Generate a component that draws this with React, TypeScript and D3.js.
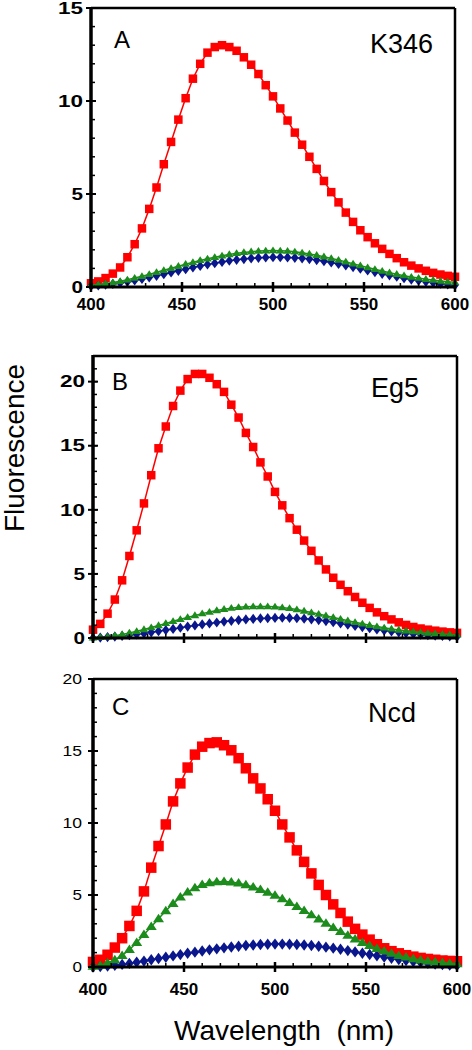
import React from "react";
import * as d3 from "d3";

// Wavelength grid (nm)
const wavelengths: number[] = d3.range(400, 601, 4);

// Panel A - K346
const redA = [0.2,0.3,0.48,0.72,1.05,1.6,2.3,3.15,4.2,5.35,6.6,7.8,9.0,10.15,11.2,12.0,12.6,12.9,13.0,12.9,12.7,12.35,11.95,11.45,10.85,10.25,9.6,8.95,8.3,7.65,7.0,6.35,5.7,5.1,4.55,4.0,3.5,3.05,2.68,2.35,2.05,1.78,1.55,1.33,1.15,1.0,0.87,0.76,0.67,0.6,0.55];
const greenA = [0.1,0.14,0.18,0.24,0.31,0.39,0.48,0.58,0.68,0.79,0.9,1.01,1.12,1.23,1.33,1.43,1.52,1.6,1.68,1.75,1.81,1.86,1.9,1.93,1.95,1.96,1.95,1.93,1.89,1.84,1.78,1.71,1.63,1.54,1.45,1.35,1.25,1.15,1.05,0.95,0.86,0.77,0.69,0.61,0.54,0.48,0.42,0.37,0.32,0.28,0.25];
const blueA = [0.05,0.08,0.12,0.17,0.22,0.28,0.35,0.43,0.51,0.6,0.69,0.78,0.87,0.96,1.05,1.13,1.21,1.28,1.35,1.41,1.46,1.5,1.54,1.57,1.59,1.6,1.6,1.59,1.57,1.54,1.5,1.45,1.39,1.32,1.24,1.16,1.07,0.98,0.89,0.8,0.71,0.63,0.55,0.47,0.4,0.34,0.28,0.23,0.18,0.14,0.1];

// Panel B - Eg5
const redB = [0.65,1.1,1.9,3.0,4.5,6.4,8.4,10.5,12.7,14.8,16.5,18.1,19.3,20.2,20.6,20.6,20.3,19.8,19.2,18.2,17.2,16.0,14.9,13.7,12.6,11.4,10.35,9.35,8.45,7.6,6.8,6.05,5.35,4.7,4.15,3.65,3.2,2.75,2.35,2.0,1.7,1.45,1.22,1.02,0.86,0.74,0.65,0.57,0.5,0.44,0.4];
const greenB = [0.02,0.05,0.1,0.18,0.28,0.4,0.53,0.67,0.82,0.98,1.14,1.3,1.46,1.61,1.76,1.9,2.03,2.15,2.25,2.33,2.39,2.43,2.45,2.46,2.45,2.43,2.38,2.31,2.22,2.11,1.99,1.87,1.74,1.61,1.48,1.35,1.23,1.11,1.0,0.9,0.8,0.71,0.63,0.56,0.5,0.44,0.39,0.35,0.31,0.28,0.25];
const blueB = [0.0,0.03,0.07,0.11,0.16,0.22,0.29,0.36,0.44,0.53,0.62,0.71,0.8,0.89,0.98,1.06,1.14,1.21,1.28,1.34,1.4,1.45,1.49,1.53,1.55,1.57,1.58,1.57,1.55,1.51,1.46,1.4,1.32,1.23,1.14,1.04,0.94,0.85,0.76,0.67,0.59,0.51,0.44,0.38,0.32,0.27,0.23,0.19,0.16,0.13,0.1];

// Panel C - Ncd
const redC = [0.35,0.5,0.85,1.35,2.0,2.85,3.9,5.25,6.9,8.4,9.9,11.5,12.75,13.85,14.75,15.3,15.55,15.6,15.4,15.05,14.5,13.8,13.1,12.4,11.65,10.85,9.9,9.0,8.1,7.3,6.5,5.7,5.0,4.35,3.75,3.15,2.65,2.25,1.9,1.58,1.3,1.1,0.95,0.82,0.72,0.63,0.56,0.5,0.45,0.42,0.4];
const greenC = [0.05,0.12,0.28,0.5,0.8,1.2,1.7,2.25,2.8,3.35,3.9,4.4,4.85,5.2,5.5,5.72,5.85,5.92,5.93,5.9,5.82,5.7,5.55,5.38,5.18,4.97,4.73,4.47,4.2,3.92,3.63,3.33,3.03,2.74,2.46,2.19,1.94,1.7,1.48,1.28,1.1,0.94,0.8,0.68,0.57,0.48,0.41,0.35,0.3,0.26,0.22];
const blueC = [0.0,0.03,0.07,0.12,0.18,0.25,0.33,0.41,0.5,0.59,0.68,0.77,0.86,0.95,1.03,1.11,1.19,1.26,1.33,1.39,1.44,1.49,1.53,1.56,1.58,1.59,1.59,1.58,1.56,1.53,1.49,1.44,1.38,1.31,1.23,1.14,1.05,0.96,0.87,0.78,0.69,0.6,0.52,0.45,0.38,0.32,0.26,0.21,0.17,0.13,0.1];

const xTicks = [400, 450, 500, 550, 600];
const yTicksA = [0, 5, 10, 15];
const yTicksBC = [0, 5, 10, 15, 20];

const RED = "#ff0000";
const GREEN = "#1c8c1c";
const BLUE = "#0a168c";
const FONT = "Arial, 'Liberation Sans', Helvetica, sans-serif";

type PanelProps = {
  left: number; right: number; top: number; bottom: number;
  yMax: number; yTicks: number[];
  red: number[]; green: number[]; blue: number[];
  letter: string; name: string;
  showX: boolean; xLabelOffset: number;
  boldY: boolean; big: boolean;
  letterPos: [number, number]; namePos: [number, number];
  nameSize: number;
};

function Marker({ kind, x, y, s, color }: { kind: string; x: number; y: number; s: number; color: string }) {
  if (kind === "square") {
    return <rect x={x - s / 2} y={y - s / 2} width={s} height={s} fill={color} />;
  }
  if (kind === "diamond") {
    const w = s * 0.45, h = s * 0.6;
    return <path d={`M${x},${y - h}L${x + w},${y}L${x},${y + h}L${x - w},${y}Z`} fill={color} />;
  }
  const h = s * 0.85, w = s * 0.55;
  return <path d={`M${x},${y - h * 0.6}L${x + w},${y + h * 0.4}L${x - w},${y + h * 0.4}Z`} fill={color} />;
}

function Panel(p: PanelProps) {
  const x = d3.scaleLinear().domain([400, 600]).range([p.left, p.right]);
  const y = d3.scaleLinear().domain([0, p.yMax]).range([p.bottom, p.top]);
  const line = d3.line<number>().x((_, i) => x(wavelengths[i])).y((v) => y(v));
  const minorY = d3.range(0, p.yMax + 0.001, 1);
  const minorX = d3.range(400, 601, 10);
  const sq = p.big ? 10.5 : 8.5;
  const tri = p.big ? 10 : 8;
  const dia = p.big ? 9.5 : 8.5;
  const series = [
    { data: p.red, color: RED, kind: "square", s: sq },
    { data: p.blue, color: BLUE, kind: "diamond", s: dia },
    { data: p.green, color: GREEN, kind: "triangle", s: tri },
  ];
  return (
    <g>
      {series.map((s, si) => (
        <g key={si}>
          <path d={line(s.data) || ""} fill="none" stroke={s.color} strokeWidth={1.5} />
          {s.data.map((v, i) => (
            <Marker key={i} kind={s.kind} x={x(wavelengths[i])} y={y(v)} s={s.s} color={s.color} />
          ))}
        </g>
      ))}
      {/* frame */}
      <line x1={p.left} x2={p.right} y1={p.top} y2={p.top} stroke="#000" strokeWidth={2.5} />
      <line x1={p.right} x2={p.right} y1={p.top} y2={p.bottom} stroke="#000" strokeWidth={2.5} />
      <line x1={p.left} x2={p.left} y1={p.top - 1} y2={p.bottom + 1.5} stroke="#000" strokeWidth={3.5} />
      <line x1={p.left} x2={p.right + 1.2} y1={p.bottom} y2={p.bottom} stroke="#000" strokeWidth={3} />
      {/* y minor ticks */}
      {minorY.map((t) => (
        <line key={"ym" + t} x1={p.left} x2={p.left + 4} y1={y(t)} y2={y(t)} stroke="#000" strokeWidth={1.5} />
      ))}
      {p.yTicks.map((t) => (
        <g key={"y" + t}>
          <line x1={p.left - 5} x2={p.left + 5} y1={y(t)} y2={y(t)} stroke="#000" strokeWidth={2} />
          <text
            x={p.left - (p.boldY ? 8 : 11)}
            y={y(t)}
            dy="0.36em"
            textAnchor="end"
            fontFamily={FONT}
            fontWeight={p.boldY ? "bold" : "normal"}
            fontSize={p.boldY ? 16 : 15}
            textLength={p.boldY ? (String(t).length > 1 ? 25 : 11.5) : (String(t).length > 1 ? 19.5 : 9.5)}
            lengthAdjust="spacingAndGlyphs"
          >
            {t}
          </text>
        </g>
      ))}
      {/* x minor ticks */}
      {minorX.map((t) => (
        <line key={"xm" + t} x1={x(t)} x2={x(t)} y1={p.bottom} y2={p.bottom - 4} stroke="#000" strokeWidth={1.5} />
      ))}
      {xTicks.map((t) => (
        <g key={"x" + t}>
          <line x1={x(t)} x2={x(t)} y1={p.bottom - 5} y2={p.bottom + 5} stroke="#000" strokeWidth={2.5} />
          {p.showX && (
            <text x={x(t)} y={p.bottom + p.xLabelOffset} textAnchor="middle" fontFamily={FONT} fontWeight="bold" fontSize={17}>
              {t}
            </text>
          )}
        </g>
      ))}
      <text x={p.letterPos[0]} y={p.letterPos[1]} fontFamily={FONT} fontSize={24}>{p.letter}</text>
      <text x={p.namePos[0]} y={p.namePos[1]} textAnchor="end" fontFamily={FONT} fontSize={p.nameSize}>{p.name}</text>
    </g>
  );
}

export default function App() {
  return (
    <svg width={472} height={1050} style={{ position: "absolute", left: 0, top: 0, background: "#fff" }}>
      <rect x={0} y={0} width={472} height={1050} fill="#fff" />
      <Panel left={91} right={455} top={8} bottom={287} yMax={15} yTicks={yTicksA}
        red={redA} green={greenA} blue={blueA} letter="A" name="K346"
        showX={true} xLabelOffset={23} boldY={true} big={false}
        letterPos={[114, 48]} namePos={[433, 53]} nameSize={27} />
      <Panel left={93} right={457} top={356} bottom={638} yMax={22} yTicks={yTicksBC}
        red={redB} green={greenB} blue={blueB} letter="B" name="Eg5"
        showX={false} xLabelOffset={23} boldY={true} big={false}
        letterPos={[112, 390]} namePos={[419, 397]} nameSize={27} />
      <Panel left={93} right={457} top={679} bottom={967} yMax={20} yTicks={yTicksBC}
        red={redC} green={greenC} blue={blueC} letter="C" name="Ncd"
        showX={true} xLabelOffset={28} boldY={false} big={true}
        letterPos={[112, 715]} namePos={[416, 722]} nameSize={27} />
      <text transform="translate(24,448) rotate(-90)" textAnchor="middle" fontFamily={FONT} fontSize={28}>
        Fluorescence
      </text>
      <text x={284} y={1040} textAnchor="middle" fontFamily={FONT} fontSize={28} style={{ whiteSpace: "pre" }}>
        {"Wavelength  (nm)"}
      </text>
    </svg>
  );
}
